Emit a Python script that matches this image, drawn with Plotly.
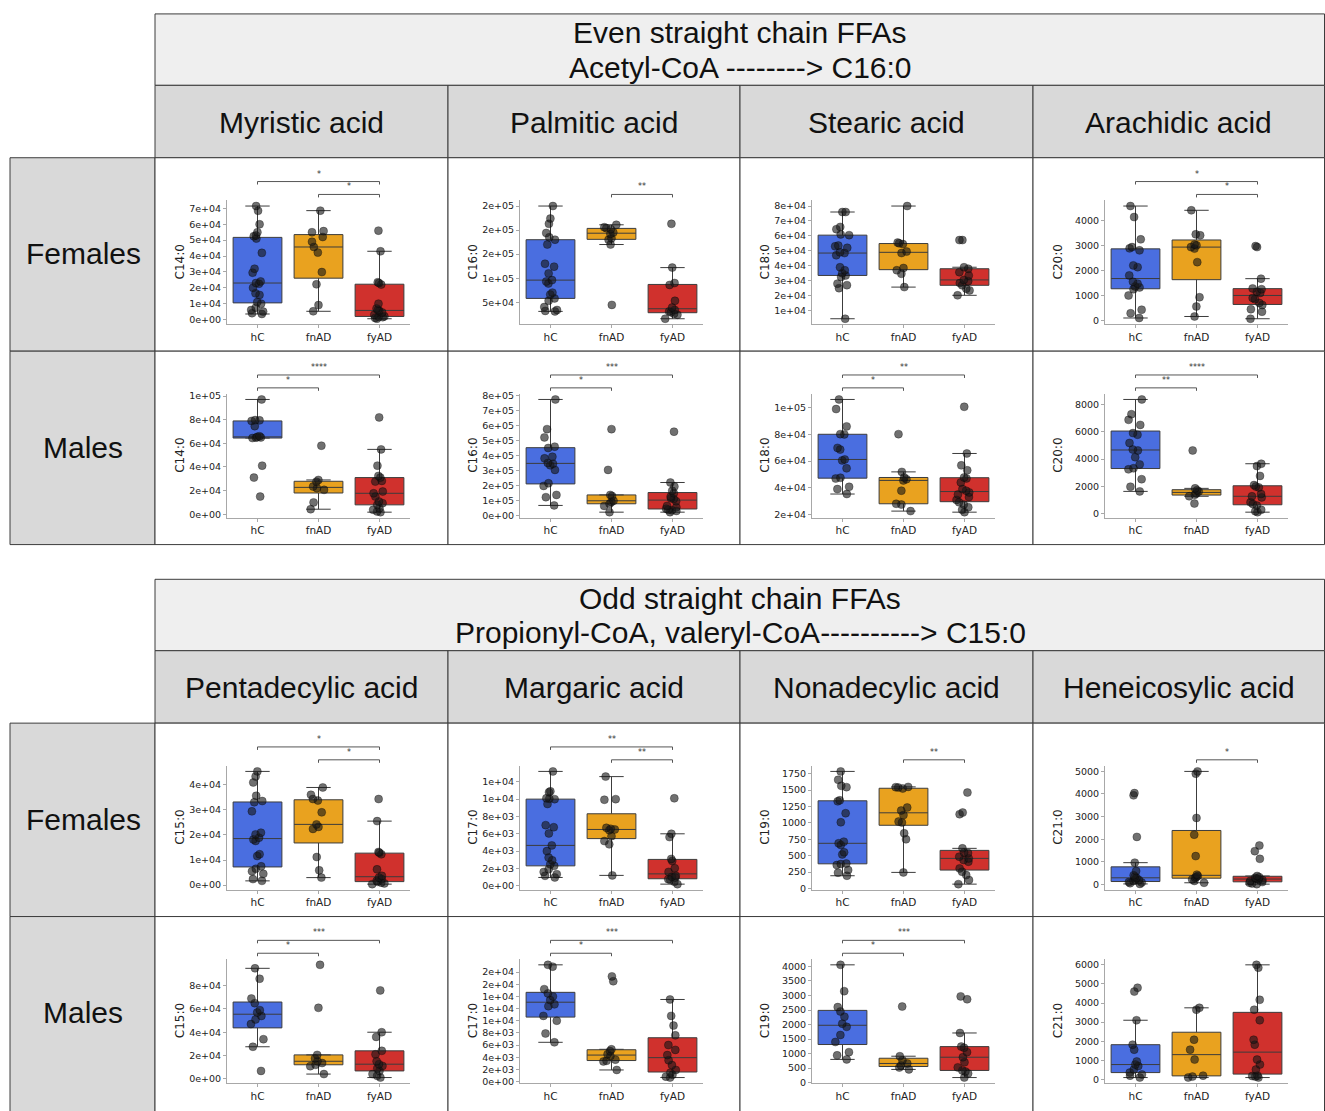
import numpy as np
import plotly.graph_objects as go

W, H = 1325, 1111
GROUPS = ["hC", "fnAD", "fyAD"]
COLORS = {"hC": "#4a6ee0", "fnAD": "#e9a21f", "fyAD": "#d0312d"}
HEAD_FONT = "Liberation Sans, Arial, sans-serif"
AX_FONT = "DejaVu Sans, sans-serif"

# ---------------- data (values in the panel's unit) ----------------
# Even chain - Females
myr_F_hC = [0.35, 0.4, 0.5, 0.6, 0.75, 1.0, 1.1, 1.55, 1.65, 2.0, 2.25, 2.3, 2.4, 2.95, 3.2, 4.2, 5.1, 5.25, 5.3, 5.5, 6.0, 6.85, 7.15]
myr_F_fnAD = [0.52, 0.91, 2.22, 2.99, 4.22, 4.57, 4.9, 5.2, 5.5, 5.57, 6.86]
myr_F_fyAD = [0.05, 0.1, 0.15, 0.18, 0.2, 0.3, 0.45, 0.55, 0.6, 0.7, 1.0, 2.2, 2.3, 2.35, 4.3, 5.6]
pal_F_hC = [3.1, 3.2, 3.4, 4.0, 5.3, 5.8, 6.6, 7.0, 8.9, 9.3, 9.6, 11.0, 12.4, 13.0, 17.0, 18.0, 18.5, 19.4, 21.3, 22.4, 25.0]
pal_F_fnAD = [4.45, 17.0, 18.0, 18.3, 19.2, 19.5, 20.2, 20.4, 20.6, 21.1]
pal_F_fyAD = [1.57, 2.4, 2.6, 2.9, 3.1, 3.4, 3.9, 5.3, 8.6, 9.0, 12.2, 21.3]
ste_F_hC = [0.45, 2.5, 2.7, 2.8, 3.25, 3.35, 3.5, 3.7, 3.9, 4.7, 4.85, 4.9, 5.2, 5.3, 5.35, 6.05, 6.1, 6.45, 6.6, 7.6, 7.6]
ste_F_fnAD = [2.57, 3.46, 3.7, 3.85, 4.85, 4.95, 5.45, 5.5, 5.55, 8.0]
ste_F_fyAD = [2.02, 2.35, 2.46, 2.69, 2.84, 2.97, 3.05, 3.35, 3.57, 3.8, 3.9, 5.72, 5.72]
ara_F_hC = [0.1, 0.29, 0.43, 1.0, 1.25, 1.32, 1.36, 1.47, 1.55, 1.8, 2.13, 2.2, 2.8, 2.88, 2.93, 3.24, 4.13, 4.57]
ara_F_fnAD = [0.16, 0.56, 0.93, 2.33, 2.87, 2.93, 3.0, 3.03, 3.4, 3.44, 4.4]
ara_F_fyAD = [0.07, 0.35, 0.45, 0.62, 0.7, 0.85, 0.9, 1.1, 1.15, 1.25, 1.28, 1.67, 2.93, 2.97]
# Even chain - Males
myr_M_hC = [1.49, 3.1, 4.11, 6.45, 6.48, 6.5, 6.55, 6.6, 7.46, 7.9, 7.95, 7.97, 9.72]
myr_M_fnAD = [0.42, 1.0, 2.06, 2.2, 2.34, 2.75, 2.9, 5.8]
myr_M_fyAD = [0.17, 0.23, 0.37, 0.5, 0.79, 0.93, 1.07, 1.49, 1.77, 1.92, 2.76, 2.82, 3.1, 3.24, 4.11, 5.49, 8.2]
pal_M_hC = [0.67, 1.22, 1.37, 1.97, 2.15, 3.04, 3.35, 3.45, 3.5, 3.81, 3.92, 4.5, 4.59, 5.21, 5.76, 7.74]
pal_M_fnAD = [0.22, 0.64, 0.78, 0.9, 0.98, 1.3, 1.37, 3.04, 5.76]
pal_M_fyAD = [0.22, 0.3, 0.35, 0.38, 0.45, 0.55, 0.64, 0.95, 1.1, 1.15, 1.26, 1.49, 1.65, 1.93, 2.2, 5.59]
ste_M_hC = [3.53, 3.9, 4.07, 4.69, 4.75, 5.46, 6.05, 6.12, 6.86, 6.99, 8.0, 8.02, 8.6, 9.9, 10.62]
ste_M_fnAD = [2.25, 2.74, 2.8, 3.78, 4.55, 4.64, 4.77, 5.19, 8.02]
ste_M_fyAD = [2.17, 2.35, 2.54, 2.74, 2.91, 3.09, 3.3, 3.5, 3.65, 3.78, 3.9, 4.4, 4.7, 4.77, 5.31, 5.68, 6.57, 10.07]
ara_M_hC = [1.64, 1.98, 2.53, 3.25, 3.33, 3.61, 4.14, 4.63, 4.7, 5.18, 5.78, 5.9, 6.5, 6.87, 7.28, 8.36]
ara_M_fnAD = [0.75, 1.28, 1.4, 1.49, 1.64, 1.73, 1.86, 4.63]
ara_M_fyAD = [0.12, 0.19, 0.29, 0.6, 0.72, 0.84, 1.2, 1.28, 1.45, 1.93, 2.0, 2.1, 2.77, 3.49, 3.66]
# Odd chain - Females
pen_F_hC = [0.17, 0.24, 0.45, 0.55, 0.65, 0.75, 1.16, 1.23, 1.76, 1.82, 1.89, 2.02, 2.09, 2.94, 3.3, 3.35, 3.56, 4.09, 4.33, 4.53]
pen_F_fnAD = [0.3, 0.59, 1.12, 2.24, 2.32, 2.42, 2.9, 3.37, 3.43, 3.6, 3.89]
pen_F_fyAD = [0.04, 0.07, 0.1, 0.13, 0.17, 0.24, 0.3, 0.37, 0.63, 1.23, 1.29, 1.32, 2.55, 3.43]
mar_F_hC = [0.96, 1.15, 1.34, 1.6, 1.91, 2.3, 2.48, 2.94, 3.25, 4.0, 4.66, 6.04, 6.76, 7.0, 9.44, 10.0, 10.05, 10.1, 10.8, 10.9, 13.2]
mar_F_fnAD = [1.2, 4.78, 5.16, 5.73, 6.42, 6.5, 6.57, 6.69, 9.93, 10.0, 12.6]
mar_F_fyAD = [0.19, 0.46, 0.69, 0.76, 0.96, 1.03, 1.15, 1.6, 2.03, 2.87, 3.1, 5.62, 6.0, 10.1]
non_F_hC = [194, 240, 281, 357, 372, 380, 520, 551, 663, 689, 714, 1010, 1148, 1330, 1345, 1546, 1566, 1658, 1786]
non_F_fnAD = [245, 750, 842, 1005, 1020, 1120, 1189, 1235, 1525, 1541, 1545, 1550]
non_F_fyAD = [66, 128, 204, 255, 306, 408, 434, 459, 485, 540, 550, 612, 1133, 1158, 1464]
hen_F_hC = [0.02, 0.05, 0.08, 0.1, 0.15, 0.19, 0.22, 0.29, 0.34, 0.4, 0.59, 0.96, 2.1, 3.94, 4.04]
hen_F_fnAD = [0.07, 0.15, 0.22, 0.29, 0.33, 0.37, 0.43, 1.25, 2.2, 2.94, 4.9, 5.0]
hen_F_fyAD = [0.01, 0.04, 0.07, 0.1, 0.15, 0.19, 0.22, 0.25, 0.29, 0.32, 0.37, 1.13, 1.47, 1.72]
# Odd chain - Males
pen_M_hC = [0.67, 2.75, 3.4, 4.7, 5.1, 5.4, 5.7, 5.9, 6.5, 6.9, 8.6, 9.5]
pen_M_fnAD = [0.4, 1.08, 1.2, 1.35, 1.5, 1.75, 2.05, 6.1, 9.8]
pen_M_fyAD = [0.1, 0.25, 0.4, 0.67, 0.9, 1.1, 1.25, 1.5, 2.1, 2.4, 3.6, 4.0, 7.6]
mar_M_hC = [6.45, 7.9, 10.0, 10.8, 12.4, 12.7, 13.4, 14.0, 14.5, 15.2, 18.9, 19.2]
mar_M_fnAD = [1.9, 3.3, 3.4, 3.6, 4.2, 4.5, 5.0, 5.3, 16.5, 17.3]
mar_M_fyAD = [0.65, 0.8, 1.1, 1.45, 1.9, 2.7, 3.5, 4.35, 5.2, 6.0, 7.6, 9.2, 10.8, 13.5]
non_M_hC = [800, 940, 1050, 1400, 1640, 1920, 2030, 2270, 2450, 2600, 3150, 4056]
non_M_fnAD = [455, 520, 590, 660, 770, 910, 2620]
non_M_fyAD = [175, 315, 380, 420, 525, 700, 875, 1050, 1200, 1240, 1710, 2870, 2970]
hen_M_hC = [0.1, 0.2, 0.26, 0.36, 0.52, 0.7, 0.78, 0.94, 1.56, 1.82, 3.1, 4.6, 4.8]
hen_M_fnAD = [0.1, 0.15, 0.2, 1.04, 1.56, 2.08, 3.65, 3.75]
hen_M_fyAD = [0.1, 0.15, 0.18, 0.2, 0.52, 0.78, 1.04, 1.82, 2.08, 3.1, 3.65, 4.17, 5.85, 6.0]

# tick values (absolute)
ticks_myr_F = [0, 1e4, 2e4, 3e4, 4e4, 5e4, 6e4, 7e4]
ticks_pal_F = [5e4, 1e5, 1.5e5, 2e5, 2.5e5]
ticks_ste_F = [1e4, 2e4, 3e4, 4e4, 5e4, 6e4, 7e4, 8e4]
ticks_ara_F = [0, 1000, 2000, 3000, 4000]
ticks_myr_M = [0, 2e4, 4e4, 6e4, 8e4, 1e5]
ticks_pal_M = [0, 1e5, 2e5, 3e5, 4e5, 5e5, 6e5, 7e5, 8e5]
ticks_ste_M = [2e4, 4e4, 6e4, 8e4, 1e5]
ticks_ara_M = [0, 2000, 4000, 6000, 8000]
ticks_pen_F = [0, 1e4, 2e4, 3e4, 4e4]
ticks_mar_F = [0, 2e3, 4e3, 6e3, 8e3, 1e4, 1.2e4]
ticks_non_F = [0, 250, 500, 750, 1000, 1250, 1500, 1750]
ticks_hen_F = [0, 1000, 2000, 3000, 4000, 5000]
ticks_pen_M = [0, 2e4, 4e4, 6e4, 8e4]
ticks_mar_M = [0, 2e3, 4e3, 6e3, 8e3, 1e4, 1.2e4, 1.4e4, 1.6e4, 1.8e4]
ticks_non_M = [0, 500, 1000, 1500, 2000, 2500, 3000, 3500, 4000]
ticks_hen_M = [0, 1000, 2000, 3000, 4000, 5000, 6000]

# header texts
even_title = ["Even straight chain FFAs", "Acetyl-CoA --------> C16:0"]
odd_title = ["Odd straight chain FFAs", "Propionyl-CoA, valeryl-CoA----------> C15:0"]
even_cols = ["Myristic acid", "Palmitic acid", "Stearic acid", "Arachidic acid"]
odd_cols = ["Pentadecylic acid", "Margaric acid", "Nonadecylic acid", "Heneicosylic acid"]
row_names = ["Females", "Males"]

# panels: (row, col, ylabel, groups data, unit, ticks, sci, brackets[(g1, g2, stars, level)])
panels = [
    (0, 0, "C14:0", (myr_F_hC, myr_F_fnAD, myr_F_fyAD), 1e4, ticks_myr_F, True, [("hC", "fyAD", "*", 2), ("fnAD", "fyAD", "*", 1)]),
    (0, 1, "C16:0", (pal_F_hC, pal_F_fnAD, pal_F_fyAD), 1e4, ticks_pal_F, True, [("fnAD", "fyAD", "**", 1)]),
    (0, 2, "C18:0", (ste_F_hC, ste_F_fnAD, ste_F_fyAD), 1e4, ticks_ste_F, True, []),
    (0, 3, "C20:0", (ara_F_hC, ara_F_fnAD, ara_F_fyAD), 1e3, ticks_ara_F, False, [("hC", "fyAD", "*", 2), ("fnAD", "fyAD", "*", 1)]),
    (1, 0, "C14:0", (myr_M_hC, myr_M_fnAD, myr_M_fyAD), 1e4, ticks_myr_M, True, [("hC", "fyAD", "****", 2), ("hC", "fnAD", "*", 1)]),
    (1, 1, "C16:0", (pal_M_hC, pal_M_fnAD, pal_M_fyAD), 1e5, ticks_pal_M, True, [("hC", "fyAD", "***", 2), ("hC", "fnAD", "*", 1)]),
    (1, 2, "C18:0", (ste_M_hC, ste_M_fnAD, ste_M_fyAD), 1e4, ticks_ste_M, True, [("hC", "fyAD", "**", 2), ("hC", "fnAD", "*", 1)]),
    (1, 3, "C20:0", (ara_M_hC, ara_M_fnAD, ara_M_fyAD), 1e3, ticks_ara_M, False, [("hC", "fyAD", "****", 2), ("hC", "fnAD", "**", 1)]),
    (2, 0, "C15:0", (pen_F_hC, pen_F_fnAD, pen_F_fyAD), 1e4, ticks_pen_F, True, [("hC", "fyAD", "*", 2), ("fnAD", "fyAD", "*", 1)]),
    (2, 1, "C17:0", (mar_F_hC, mar_F_fnAD, mar_F_fyAD), 1e3, ticks_mar_F, True, [("hC", "fyAD", "**", 2), ("fnAD", "fyAD", "**", 1)]),
    (2, 2, "C19:0", (non_F_hC, non_F_fnAD, non_F_fyAD), 1, ticks_non_F, False, [("fnAD", "fyAD", "**", 1)]),
    (2, 3, "C21:0", (hen_F_hC, hen_F_fnAD, hen_F_fyAD), 1e3, ticks_hen_F, False, [("fnAD", "fyAD", "*", 1)]),
    (3, 0, "C15:0", (pen_M_hC, pen_M_fnAD, pen_M_fyAD), 1e4, ticks_pen_M, True, [("hC", "fyAD", "***", 2), ("hC", "fnAD", "*", 1)]),
    (3, 1, "C17:0", (mar_M_hC, mar_M_fnAD, mar_M_fyAD), 1e3, ticks_mar_M, True, [("hC", "fyAD", "***", 2), ("hC", "fnAD", "*", 1)]),
    (3, 2, "C19:0", (non_M_hC, non_M_fnAD, non_M_fyAD), 1, ticks_non_M, False, [("hC", "fyAD", "***", 2), ("hC", "fnAD", "*", 1)]),
    (3, 3, "C21:0", (hen_M_hC, hen_M_fnAD, hen_M_fyAD), 1e3, ticks_hen_M, False, []),
]

# ---------------- layout geometry (pixels) ----------------
COL_X = [155, 448, 740, 1033, 1324.5]
ROW_Y = [155, 350, 725, 920]
CELL_H = 195
PLOT_L, PLOT_R, PLOT_T, PLOT_B = 72, 255, 43, 168
BRACKET_Y = {2: 24, 1: 37}
LINE_C = "#3c3c3c"

shapes, annotations = [], []


def rect(x0, y0, x1, y1, fill):
    shapes.append(dict(type="rect", xref="paper", yref="paper", layer="below",
                       x0=x0 / W, x1=x1 / W, y0=1 - y1 / H, y1=1 - y0 / H,
                       fillcolor=fill, line=dict(color=LINE_C, width=1)))


def text(x, y, s, size=30, angle=0, family=HEAD_FONT, color="#111"):
    annotations.append(dict(xref="paper", yref="paper", x=x / W, y=1 - y / H, text=s,
                            showarrow=False, textangle=angle, xanchor="center", yanchor="middle",
                            font=dict(size=size, family=family, color=color)))


def table(top, title, cols, row_tops, last_h):
    rect(155, top, 1324.5, top + 72, "#efefef")
    text(740, top + 19, title[0])
    text(740, top + 54, title[1])
    for c in range(4):
        rect(COL_X[c], top + 72, COL_X[c + 1], top + 145, "#d9d9d9")
        text((COL_X[c] + COL_X[c + 1]) / 2, top + 109, cols[c])
    for r, rt in enumerate(row_tops):
        h = CELL_H if r < len(row_tops) - 1 else last_h
        rect(10, rt, 155, rt + h, "#d9d9d9")
        text(83, rt + 97, row_names[r])
        for c in range(4):
            rect(COL_X[c], rt, COL_X[c + 1], rt + h, "white")


table(10, even_title, even_cols, ROW_Y[:2], CELL_H)
table(580, odd_title, odd_cols, [ROW_Y[2], ROW_Y[3]], 230)


def fmt(v, sci):
    return ("%.0e" % v) if sci else "%d" % v


fig = go.Figure()
layout = {}
for i, (r, c, ylab, groups, unit, ticks, sci, brackets) in enumerate(panels):
    n = i + 1
    xa, ya = f"x{n}", f"y{n}"
    x0, y0 = COL_X[c], ROW_Y[r]
    vals = [np.asarray(g, dtype=float) * unit for g in groups]
    allv = np.concatenate(vals)
    lo, hi = allv.min(), allv.max()
    pad = 0.05 * (hi - lo)
    for g, v in zip(GROUPS, vals):
        q1, med, q3 = np.percentile(v, [25, 50, 75])
        iqr = q3 - q1
        lf = v[v >= q1 - 1.5 * iqr].min()
        uf = v[v <= q3 + 1.5 * iqr].max()
        fig.add_trace(go.Box(x=[g], q1=[q1], median=[med], q3=[q3], lowerfence=[lf], upperfence=[uf],
                             fillcolor=COLORS[g], line=dict(color=LINE_C, width=1), width=0.8,
                             whiskerwidth=0.5, boxpoints=False, showlegend=False,
                             xaxis=xa, yaxis=ya))
    xs = sum([[g] * len(v) for g, v in zip(GROUPS, vals)], [])
    fig.add_trace(go.Box(x=xs, y=allv, boxpoints="all", jitter=0.35, pointpos=0, width=0.8,
                         fillcolor="rgba(0,0,0,0)", line=dict(color="rgba(0,0,0,0)", width=0),
                         marker=dict(color="rgba(25,25,25,0.62)", size=8,
                                     line=dict(color="rgba(0,0,0,0.5)", width=0.6)),
                         showlegend=False, hoveron="points", xaxis=xa, yaxis=ya))
    layout[f"xaxis{n}"] = dict(domain=[(x0 + PLOT_L) / W, (x0 + PLOT_R) / W], anchor=ya,
                               type="category", categoryorder="array", categoryarray=GROUPS,
                               range=[-0.5, 2.5], showline=True, linecolor="#a8a8a8", linewidth=1,
                               ticks="outside", ticklen=3, tickcolor="#a8a8a8", showgrid=False,
                               zeroline=False, fixedrange=True,
                               tickfont=dict(size=10.5, family=AX_FONT, color="#222"))
    layout[f"yaxis{n}"] = dict(domain=[1 - (y0 + PLOT_B) / H, 1 - (y0 + PLOT_T) / H], anchor=xa,
                               range=[lo - pad, hi + pad], tickvals=ticks,
                               ticktext=[fmt(t, sci) for t in ticks],
                               showline=True, linecolor="#a8a8a8", linewidth=1, ticks="outside",
                               ticklen=3, tickcolor="#a8a8a8", showgrid=False, zeroline=False,
                               fixedrange=True, tickfont=dict(size=9.5, family=AX_FONT, color="#222"))
    text(x0 + 25, y0 + (PLOT_T + PLOT_B) / 2, ylab, size=12, angle=-90, family=AX_FONT, color="#222")
    for g1, g2, stars, lvl in brackets:
        yb = 1 - (y0 + BRACKET_Y[lvl]) / H
        leg = 3 / H
        a, b = GROUPS.index(g1), GROUPS.index(g2)
        for (sx0, sy0, sx1, sy1) in [(a, yb, b, yb), (a, yb, a, yb - leg), (b, yb, b, yb - leg)]:
            shapes.append(dict(type="line", xref=xa, yref="paper", x0=sx0, x1=sx1, y0=sy0, y1=sy1,
                               line=dict(color="#555", width=1)))
        annotations.append(dict(xref=xa, yref="paper", x=(a + b) / 2, y=yb + 1 / H, text=stars,
                                showarrow=False, xanchor="center", yanchor="bottom",
                                font=dict(size=8, family=AX_FONT, color="#333")))

fig.update_layout(width=W, height=H, margin=dict(l=0, r=0, t=0, b=0), autosize=False,
                  paper_bgcolor="white", plot_bgcolor="rgba(0,0,0,0)", showlegend=False,
                  boxmode="overlay", shapes=shapes, annotations=annotations, **layout)
fig.write_html("out.html", config={"displayModeBar": False},
               post_script="document.body.style.margin='0px';document.body.style.overflow='hidden';")
